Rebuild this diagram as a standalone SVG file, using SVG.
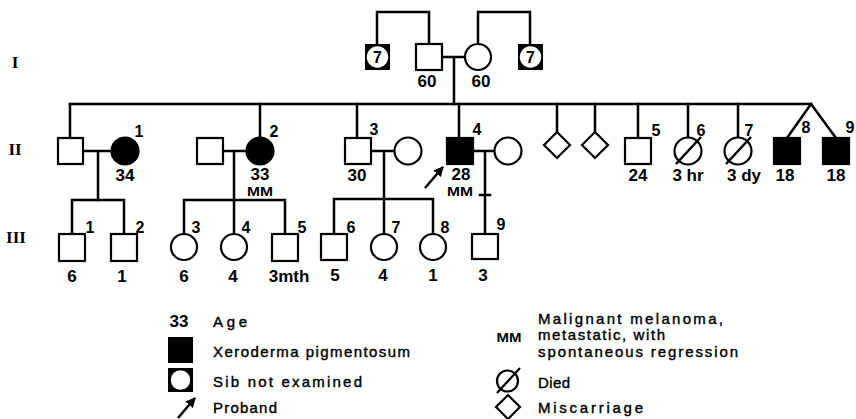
<svg xmlns="http://www.w3.org/2000/svg" width="856" height="419" viewBox="0 0 856 419">
<defs>
<style>
.ln{stroke:#000;stroke-width:2.5;fill:none;stroke-linecap:square}
.sym{stroke:#000;stroke-width:2.2;fill:#fff}
.aff{stroke:#000;stroke-width:2.2;fill:#000}
.t{font-family:"Liberation Sans",Arial,sans-serif;font-weight:bold;font-size:17px;text-anchor:middle;fill:#000}
.n{font-family:"Liberation Sans",Arial,sans-serif;font-weight:bold;font-size:16px;text-anchor:middle;fill:#000}
.mm{font-family:"Liberation Sans",Arial,sans-serif;font-weight:bold;font-size:13px;text-anchor:middle;fill:#000}
.lg{font-family:"Liberation Sans",Arial,sans-serif;font-size:15px;fill:#000;stroke:#000;stroke-width:0.4}
.rn{font-family:"Liberation Serif","Times New Roman",serif;font-weight:bold;font-size:17px;text-anchor:middle;fill:#000}
</style>
<marker id="ah" viewBox="0 0 10 10" refX="9" refY="5" markerWidth="4" markerHeight="4" orient="auto" markerUnits="strokeWidth">
<path d="M0,0 L10,5 L0,10 z" fill="#000"/>
</marker>
</defs>
<rect width="856" height="419" fill="#fff"/>

<g id="gen-labels">
<text class="rn" x="15" y="68">I</text>
<text class="rn" x="15" y="155">II</text>
<text class="rn" x="16" y="243">III</text>
</g>

<g id="connectors">
<path class="ln" d="M377,44 V12 H429 V44"/>
<path class="ln" d="M478,44 V12 H530 V44"/>
<path class="ln" d="M442,57 H465 M454,57 V104"/>
<path class="ln" d="M70,104 H811"/>
<path class="ln" d="M70,104 V138 M260,104 V137.5 M357,104 V138 M459,104 V138 M557,104 V132 M595,104 V132 M638,104 V138 M688,104 V137.5 M738,104 V137.5"/>
<path class="ln" d="M811,104 L787,138 M811,104 L836,138"/>
<path class="ln" d="M83,151 H111.5 M98,151 V200"/>
<path class="ln" d="M223,151 H246.5 M234,151 V200"/>
<path class="ln" d="M371,151 H394.5 M384,151 V199"/>
<path class="ln" d="M473,151 H494.5 M485,151 V234 M480,195 H490"/>
<path class="ln" d="M72,200 H124 M72,200 V234 M124,200 V234"/>
<path class="ln" d="M184,200 H285 M184,200 V234 M234,200 V234 M285,200 V234"/>
<path class="ln" d="M334,199 H433 M334,199 V234 M384,199 V234 M433,199 V234"/>
<line x1="425" y1="188" x2="443" y2="167" stroke="#000" stroke-width="2.5" marker-end="url(#ah)"/>
</g>

<g id="I-sib-left"><rect x="365" y="44" width="25" height="26" fill="#000"/><circle cx="377.5" cy="57" r="11.5" fill="#fff" stroke="#000" stroke-width="1.5"/><text class="n" x="377.5" y="63">7</text></g>
<g id="I-1"><rect class="sym" x="416" y="44" width="26" height="26"/><text class="t" x="427" y="87">60</text></g>
<g id="I-2"><circle class="sym" cx="478" cy="57" r="13"/><text class="t" x="481" y="87">60</text></g>
<g id="I-sib-right"><rect x="518" y="44" width="25" height="26" fill="#000"/><circle cx="530.5" cy="57" r="11.5" fill="#fff" stroke="#000" stroke-width="1.5"/><text class="n" x="530.5" y="63">7</text></g>

<g id="II-1-spouse"><rect class="sym" x="58" y="138" width="25" height="26"/></g>
<g id="II-1"><circle class="aff" cx="125" cy="151" r="13.5"/><text class="n" x="139" y="137">1</text><text class="t" x="125" y="181">34</text></g>
<g id="II-2-spouse"><rect class="sym" x="197" y="138" width="26" height="26"/></g>
<g id="II-2"><circle class="aff" cx="260" cy="151" r="13.5"/><text class="n" x="274" y="137">2</text><text class="t" x="260" y="180">33</text><text class="mm" x="260" y="196" textLength="26" lengthAdjust="spacingAndGlyphs">MM</text></g>
<g id="II-3"><rect class="sym" x="345" y="138" width="26" height="26"/><text class="n" x="374" y="135">3</text><text class="t" x="357" y="181">30</text></g>
<g id="II-3-spouse"><circle class="sym" cx="408" cy="151" r="13.5"/></g>
<g id="II-4"><rect class="aff" x="447" y="138" width="26" height="26"/><text class="n" x="477" y="135">4</text><text class="t" x="461" y="180">28</text><text class="mm" x="460" y="196" textLength="26" lengthAdjust="spacingAndGlyphs">MM</text></g>
<g id="II-4-spouse"><circle class="sym" cx="508" cy="151" r="13.5"/></g>
<g id="II-misc-1"><path class="sym" d="M557,132 L570,145 L557,158 L544,145 z"/></g>
<g id="II-misc-2"><path class="sym" d="M595,132 L608,145 L595,158 L582,145 z"/></g>
<g id="II-5"><rect class="sym" x="625" y="138" width="26" height="26"/><text class="n" x="656" y="136">5</text><text class="t" x="638" y="181">24</text></g>
<g id="II-6"><circle class="sym" cx="688" cy="151" r="13.5"/><line x1="676" y1="164" x2="701" y2="137" stroke="#000" stroke-width="2.5"/><text class="n" x="701" y="136">6</text><text class="t" x="688" y="181">3 hr</text></g>
<g id="II-7"><circle class="sym" cx="738" cy="151" r="13.5"/><line x1="726" y1="164" x2="751" y2="137" stroke="#000" stroke-width="2.5"/><text class="n" x="749" y="136">7</text><text class="t" x="744" y="181">3 dy</text></g>
<g id="II-8"><rect class="aff" x="774" y="138" width="26" height="26"/><text class="n" x="806" y="133">8</text><text class="t" x="785" y="181">18</text></g>
<g id="II-9"><rect class="aff" x="823" y="138" width="26" height="26"/><text class="n" x="850" y="133">9</text><text class="t" x="836" y="181">18</text></g>

<g id="III-1"><rect class="sym" x="59" y="234" width="26" height="27"/><text class="n" x="90" y="233">1</text><text class="t" x="72" y="282">6</text></g>
<g id="III-2"><rect class="sym" x="111" y="234" width="26" height="27"/><text class="n" x="140" y="233">2</text><text class="t" x="122" y="282">1</text></g>
<g id="III-3"><circle class="sym" cx="184" cy="247" r="13"/><text class="n" x="196" y="233">3</text><text class="t" x="184" y="282">6</text></g>
<g id="III-4"><circle class="sym" cx="234" cy="247" r="13"/><text class="n" x="246" y="233">4</text><text class="t" x="233" y="282">4</text></g>
<g id="III-5"><rect class="sym" x="272" y="234" width="26" height="27"/><text class="n" x="302" y="233">5</text><text class="t" x="289" y="282">3mth</text></g>
<g id="III-6"><rect class="sym" x="321" y="234" width="26" height="26"/><text class="n" x="351" y="233">6</text><text class="t" x="335" y="281">5</text></g>
<g id="III-7"><circle class="sym" cx="384" cy="247" r="13"/><text class="n" x="396" y="233">7</text><text class="t" x="383" y="281">4</text></g>
<g id="III-8"><circle class="sym" cx="433" cy="247" r="13"/><text class="n" x="445" y="233">8</text><text class="t" x="433" y="281">1</text></g>
<g id="III-9"><rect class="sym" x="472" y="234" width="26" height="25"/><text class="n" x="501" y="230">9</text><text class="t" x="483" y="281">3</text></g>

<g id="legend">
<text class="t" x="179" y="327">33</text>
<text class="lg" x="213" y="327" textLength="34" lengthAdjust="spacing">Age</text>
<rect x="168" y="337" width="25" height="26" fill="#000"/>
<text class="lg" x="213" y="357" textLength="197" lengthAdjust="spacing">Xeroderma pigmentosum</text>
<rect x="168" y="368" width="25" height="24" fill="#000"/>
<circle cx="180.5" cy="380" r="10.5" fill="#fff" stroke="#000" stroke-width="1.5"/>
<text class="lg" x="213" y="387" textLength="149" lengthAdjust="spacing">Sib not examined</text>
<line x1="178" y1="418" x2="195" y2="398" stroke="#000" stroke-width="2.5" marker-end="url(#ah)"/>
<text class="lg" x="213" y="413" textLength="64" lengthAdjust="spacing">Proband</text>
<text class="mm" x="509" y="342" textLength="25" lengthAdjust="spacingAndGlyphs">MM</text>
<text class="lg" x="538" y="324" textLength="185" lengthAdjust="spacing">Malignant melanoma,</text>
<text class="lg" x="538" y="340" textLength="127" lengthAdjust="spacing">metastatic, with</text>
<text class="lg" x="538" y="357" textLength="200" lengthAdjust="spacing">spontaneous regression</text>
<circle class="sym" cx="507.5" cy="381" r="10.5"/>
<line x1="497" y1="393" x2="520" y2="368" stroke="#000" stroke-width="2.2"/>
<text class="lg" x="538" y="388" textLength="32" lengthAdjust="spacing">Died</text>
<path class="sym" d="M508,395 L520,407 L508,419 L496,407 z"/>
<text class="lg" x="538" y="413" textLength="105" lengthAdjust="spacing">Miscarriage</text>
</g>
</svg>
